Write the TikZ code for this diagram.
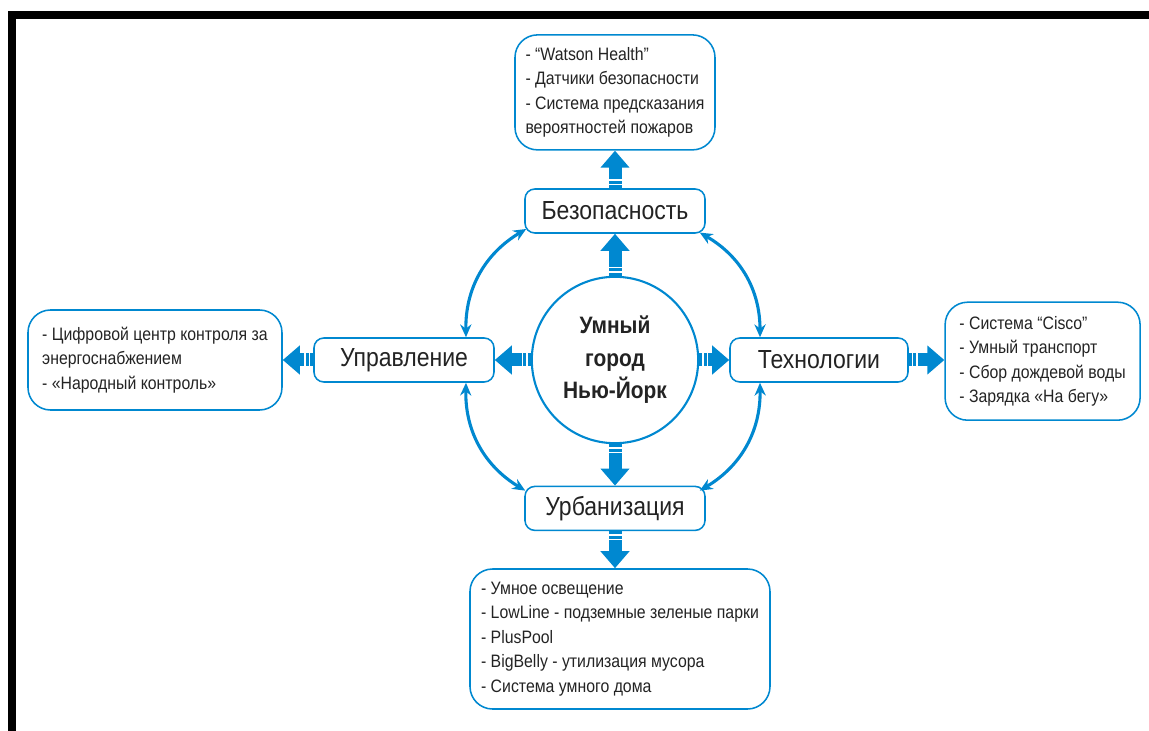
\documentclass[tikz,border=0pt]{standalone}
\usepackage{fontspec}
\setmainfont{Liberation Sans}[FakeStretch=0.88]
\usetikzlibrary{arrows.meta, decorations.markings}

\definecolor{cityblue}{RGB}{0,136,208}
\definecolor{textgray}{RGB}{35,35,35}

\begin{document}
\begin{tikzpicture}[
    text=textgray,
    topic/.style={draw=cityblue, line width=1.1pt, rounded corners=7pt, fill=white,
        minimum width=4.5cm, minimum height=1.1cm, font=\fontsize{18.6}{21}\selectfont},
    detail/.style={draw=cityblue, line width=1.1pt, rounded corners=16pt, align=left,
        font=\fontsize{12.8}{17.4}\selectfont},
    bigarrow/.style={cityblue, line width=0.325cm, -{Triangle[width=0.7cm, length=0.425cm]},
        postaction={decorate}, decoration={markings,
        mark=at position 0.094cm with {\draw[-, white, line width=0.04cm] (0,-0.165) -- (0,0.165);},
        mark=at position 0.207cm with {\draw[-, white, line width=0.04cm] (0,-0.165) -- (0,0.165);}}},
    link/.style={cityblue, line width=2.2pt,
        {Stealth[length=0.32cm, width=0.28cm]}-{Stealth[length=0.32cm, width=0.28cm]}},
]
    \useasboundingbox (-15.375, -9.275) rectangle (13.35, 9.0);
    \draw[line width=0.2cm] (-15.075, -9.4) -- (-15.075, 8.625) -- (13.5, 8.625);

    \node[circle, draw=cityblue, line width=1.5pt, minimum size=4.16cm, align=center,
        font=\bfseries\fontsize{16.9}{23.1}\selectfont] (city) at (0, 0) {Умный\\город\\Нью-Йорк};

    \node[topic] (bez) at (0, 3.725) {Безопасность};
    \node[topic] (upr) at (-5.275, 0) {Управление};
    \node[topic, minimum width=4.45cm] (tech) at (5.1, 0) {Технологии};
    \node[topic] (urb) at (0, -3.71) {Урбанизация};

    \node[detail, minimum width=5.0cm, minimum height=2.875cm] (bezd) at (0, 6.69)
        {- “Watson Health”\\- Датчики безопасности\\- Система предсказания\\вероятностей пожаров};
    \node[detail, minimum width=6.35cm, minimum height=2.5cm] (uprd) at (-11.5, 0)
        {- Цифровой центр контроля за\\энергоснабжением\\- «Народный контроль»};
    \node[detail, minimum width=4.875cm, minimum height=2.95cm] (techd) at (10.69, -0.03)
        {- Система “Cisco”\\- Умный транспорт\\- Сбор дождевой воды\\- Зарядка «На бегу»};
    \node[detail, minimum width=7.5cm, minimum height=3.5cm] (urbd) at (0.125, -6.975)
        {- Умное освещение\\- LowLine - подземные зеленые парки\\- PlusPool\\- BigBelly - утилизация мусора\\- Система умного дома};

    \draw[bigarrow] (city.north) -- (bez.south);
    \draw[bigarrow] (bez.north) -- (bezd.south);
    \draw[bigarrow] (city.west) -- (upr.east);
    \draw[bigarrow] (upr.west) -- (uprd.east);
    \draw[bigarrow] (city.east) -- (tech.west);
    \draw[bigarrow] (tech.east) -- (tech.east -| techd.west);
    \draw[bigarrow] (city.south) -- (urb.north);
    \draw[bigarrow] (urb.south) -- (urb.south |- urbd.north);

    \draw[link] ([shift={(0.05,0.12)}]bez.south west) to[bend right=30] ([xshift=1.55cm]upr.north);
    \draw[link] ([shift={(-0.15,0.03)}]bez.south east) to[bend left=30] ([xshift=-1.475cm]tech.north);
    \draw[link] ([xshift=1.55cm]upr.south) to[bend right=30] ([shift={(0.025,-0.125)}]urb.north west);
    \draw[link] ([xshift=-1.475cm]tech.south) to[bend left=30] ([shift={(-0.15,-0.125)}]urb.north east);
\end{tikzpicture}
\end{document}
